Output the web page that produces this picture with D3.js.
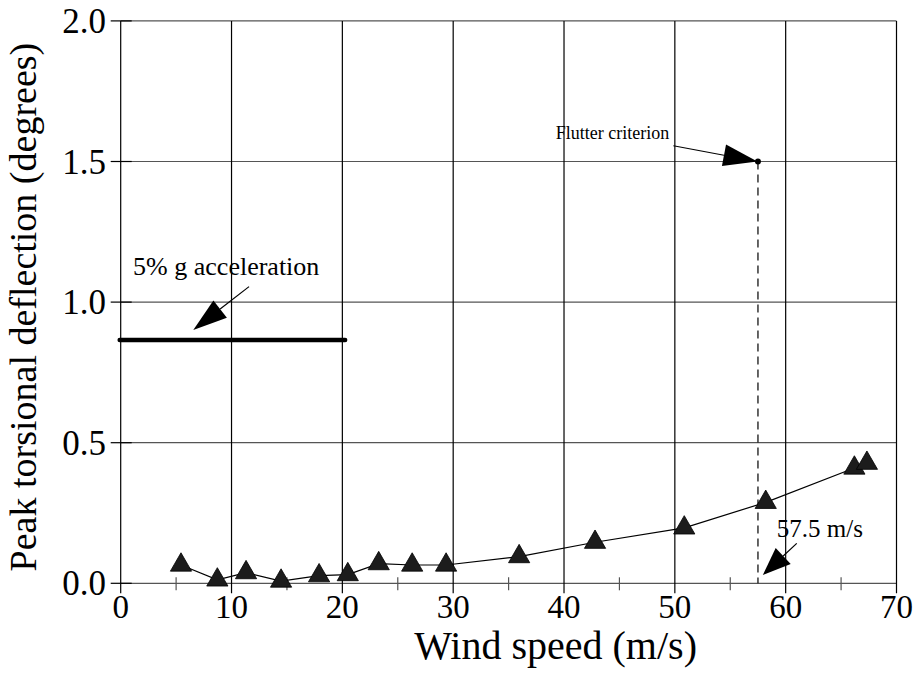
<!DOCTYPE html>
<html><head><meta charset="utf-8">
<script src="https://cdn.jsdelivr.net/npm/d3@7"></script>
<style>html,body{margin:0;padding:0;background:#fff;}svg{display:block;}</style>
</head><body>
<script>
// Data
const windSpeed = [5.44, 8.72, 11.31, 14.47, 17.9, 20.49, 23.28, 26.3, 29.36, 35.95, 42.8, 50.85, 58.2, 66.2, 67.33];
const deflection = [0.065, 0.012, 0.038, 0.008, 0.027, 0.031, 0.070, 0.065, 0.065, 0.095, 0.146, 0.197, 0.288, 0.41, 0.427];
const xTicks = [0, 10, 20, 30, 40, 50, 60, 70];
const xMinorTicks = [5, 15, 25, 35, 45, 55, 65];
const yTicks = [0.0, 0.5, 1.0, 1.5, 2.0];
const accelLevel = [0.865];
const accelRange = [0, 20.25];
const flutterPoint = [57.5, 1.5];
const xTitle = "Wind speed (m/s)";
const yTitle = "Peak torsional deflection (degrees)";
// annotations: text, text anchor point (data units), arrow tail, arrow tip
const annotations = [
  {text: "5% g acceleration", tx: 1.12, ty: 1.096, tail: [11.58, 1.055], tip: [6.55, 0.901], size: 26},
  {text: "Flutter criterion", tx: 49.5, ty: 1.580, tail: [49.87, 1.556], tip: [57.45, 1.5], size: 18, anchor: "end"},
  {text: "57.5 m/s", tx: 59.2, ty: 0.166, tail: [61.0, 0.142], tip: [57.94, 0.0295], size: 25}
];

const W = 915, H = 691;
const svg = d3.select("body").append("svg").attr("width", W).attr("height", H);
const x = d3.scaleLinear().domain([0, 70]).range([120.7, 896.5]);
const y = d3.scaleLinear().domain([0, 2]).range([583.3, 20.9]);
const font = "'Liberation Serif','Times New Roman',serif";

// horizontal gridlines (gray)
svg.append("g").selectAll("line").data(yTicks).join("line")
  .attr("x1", x(0)).attr("x2", x(70))
  .attr("y1", d => y(d)).attr("y2", d => y(d))
  .attr("stroke", "#555").attr("stroke-width", 1.2);
// vertical gridlines (extend below axis as ticks)
svg.append("g").selectAll("line").data(xTicks).join("line")
  .attr("x1", d => x(d)).attr("x2", d => x(d))
  .attr("y1", y(2)).attr("y2", y(0) + 10)
  .attr("stroke", "#000").attr("stroke-width", 1.2);
// minor x ticks
svg.append("g").selectAll("line").data(xMinorTicks).join("line")
  .attr("x1", d => x(d)).attr("x2", d => x(d))
  .attr("y1", y(0) - 6).attr("y2", y(0) + 7)
  .attr("stroke", "#555").attr("stroke-width", 1.2);
// y ticks
svg.append("g").selectAll("line").data(yTicks).join("line")
  .attr("x1", x(0) - 10).attr("x2", x(0) + 11)
  .attr("y1", d => y(d)).attr("y2", d => y(d))
  .attr("stroke", "#000").attr("stroke-width", 1.2);

// tick labels
svg.append("g").selectAll("text").data(xTicks).join("text")
  .attr("x", d => x(d)).attr("y", 618)
  .attr("text-anchor", "middle").attr("font-family", font).attr("font-size", 33)
  .text(d => d);
svg.append("g").selectAll("text").data(yTicks).join("text")
  .attr("x", 106).attr("y", d => y(d) + 12)
  .attr("text-anchor", "end").attr("font-family", font).attr("font-size", 35)
  .text(d => d.toFixed(1));

// titles
svg.append("text").attr("x", (x(0) + x(70)) / 2 + 47).attr("y", 659)
  .attr("text-anchor", "middle").attr("font-family", font).attr("font-size", 40)
  .text(xTitle);
svg.append("text").attr("transform", `translate(36,${(y(0) + y(2)) / 2 + 5}) rotate(-90)`)
  .attr("text-anchor", "middle").attr("font-family", font).attr("font-size", 38)
  .text(yTitle);

// 5% g acceleration line
svg.append("line")
  .attr("x1", x(accelRange[0]) - 1).attr("x2", x(accelRange[1]))
  .attr("y1", y(accelLevel[0])).attr("y2", y(accelLevel[0]))
  .attr("stroke", "#000").attr("stroke-width", 4.5).attr("stroke-linecap", "round");

// flutter dashed line and dot
svg.append("line")
  .attr("x1", x(flutterPoint[0])).attr("x2", x(flutterPoint[0]))
  .attr("y1", y(flutterPoint[1])).attr("y2", y(0))
  .attr("stroke", "#000").attr("stroke-width", 1.2).attr("stroke-dasharray", "8,5");
svg.append("circle").attr("cx", x(flutterPoint[0])).attr("cy", y(flutterPoint[1]))
  .attr("r", 3).attr("fill", "#000");

// data line
const pts = windSpeed.map((w, i) => [w, deflection[i]]);
svg.append("path").datum(pts)
  .attr("d", d3.line().x(d => x(d[0])).y(d => y(d[1])))
  .attr("fill", "none").attr("stroke", "#000").attr("stroke-width", 1.2);
// triangles
svg.append("g").selectAll("path").data(pts).join("path")
  .attr("transform", d => `translate(${x(d[0])},${y(d[1])})`)
  .attr("d", d3.symbol().type(d3.symbolTriangle).size(195))
  .attr("fill", "#1c1c1c").attr("stroke", "#000").attr("stroke-width", 0.8);

// annotations with arrows
annotations.forEach(a => {
  const x0 = x(a.tail[0]), y0 = y(a.tail[1]);
  const x1 = x(a.tip[0]), y1 = y(a.tip[1]);
  const dx = x1 - x0, dy = y1 - y0, L = Math.hypot(dx, dy);
  const ux = dx / L, uy = dy / L;
  const hl = Math.min(34, L * 0.6), hw = 11;
  const bx = x1 - ux * hl, by = y1 - uy * hl;
  svg.append("line").attr("x1", x0).attr("y1", y0).attr("x2", bx).attr("y2", by)
    .attr("stroke", "#000").attr("stroke-width", 1.2);
  svg.append("path")
    .attr("d", `M${x1},${y1}L${bx - uy * hw},${by + ux * hw}L${bx + uy * hw},${by - ux * hw}Z`)
    .attr("fill", "#000");
  svg.append("text").attr("x", x(a.tx)).attr("y", y(a.ty))
    .attr("text-anchor", a.anchor || "start")
    .attr("font-family", font).attr("font-size", a.size).text(a.text);
});
</script>
</body></html>
